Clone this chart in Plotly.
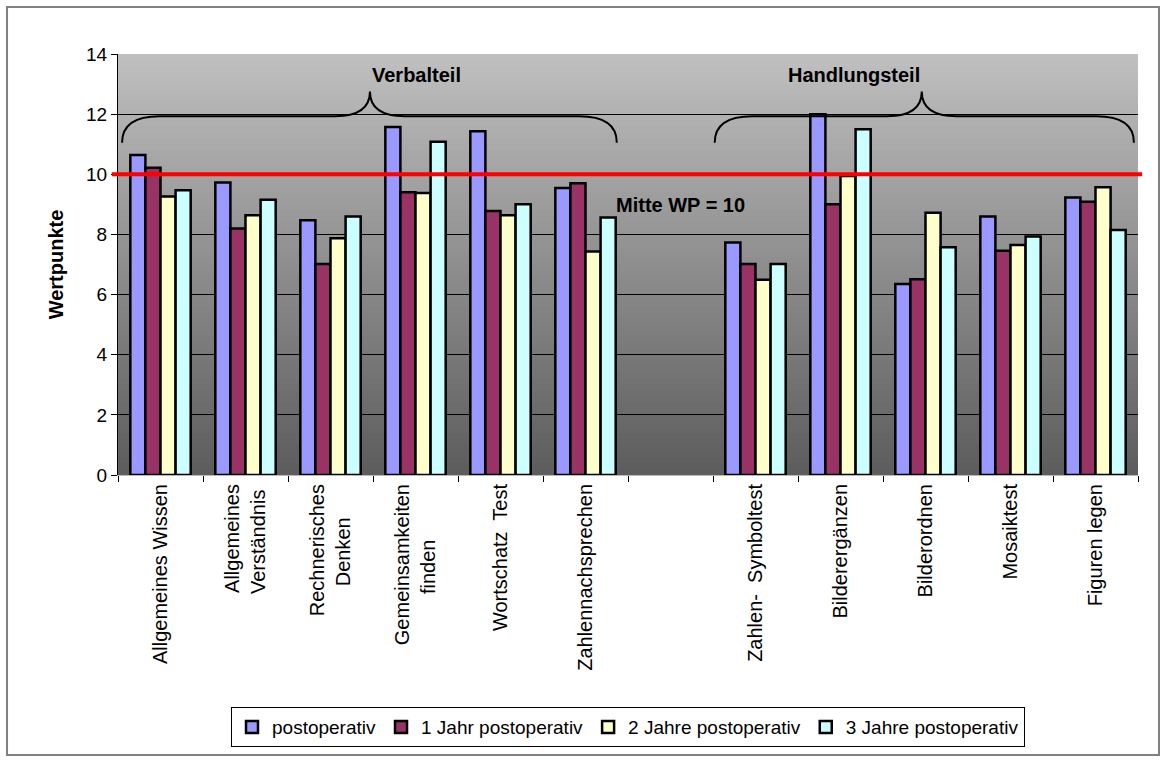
import plotly.graph_objects as go

NBSP = "\u00a0"

# Subtests of the intelligence test (one empty slot separates the two parts)
categories = [
    "Allgemeines Wissen",
    "Allgemeines<br>Verständnis" + NBSP,
    "Rechnerisches<br>Denken" + NBSP * 6,
    "Gemeinsamkeiten<br>finden" + NBSP * 10,
    "Wortschatz  Test",
    "Zahlennachsprechen",
    " ",
    "Zahlen-  Symboltest",
    "Bilderergänzen",
    "Bilderordnen",
    "Mosaiktest",
    "Figuren legen",
]

series_names = [
    "postoperativ",
    "1 Jahr postoperativ",
    "2 Jahre postoperativ",
    "3 Jahre postoperativ",
]

postoperativ = [10.64, 9.73, 8.47, 11.57, 11.43, 9.54, None, 7.73, 12.0, 6.35, 8.6, 9.23]
jahr_1 = [10.22, 8.2, 7.02, 9.4, 8.78, 9.7, None, 7.02, 9.0, 6.51, 7.46, 9.09]
jahre_2 = [9.26, 8.64, 7.87, 9.38, 8.64, 7.43, None, 6.49, 9.94, 8.72, 7.65, 9.57]
jahre_3 = [9.47, 9.15, 8.6, 11.08, 9.0, 8.56, None, 7.02, 11.5, 7.57, 7.93, 8.15]

y_ticks = [0, 2, 4, 6, 8, 10, 12, 14]
mitte_wp = 10

colors = ["#9999FF", "#993366", "#FFFFCC", "#CCFFFF"]
FONT = "Arial, Liberation Sans, sans-serif"

fig = go.Figure()
for name, vals, col in zip(series_names, [postoperativ, jahr_1, jahre_2, jahre_3], colors):
    fig.add_trace(go.Bar(
        x=categories, y=vals, name=name,
        marker=dict(color=col, line=dict(color="black", width=2.5)),
    ))

shapes = []

# vertical grey gradient behind the plot area (strips overlap to avoid seams)
n_strips = 70
top_rgb = (192, 192, 192)
bot_rgb = (92, 92, 92)
y_max = y_ticks[-1]
for i in range(n_strips):
    t = (i + 0.5) / n_strips
    c = tuple(round(bot_rgb[k] + (top_rgb[k] - bot_rgb[k]) * t) for k in range(3))
    shapes.append(dict(
        type="rect", xref="paper", yref="y", layer="below",
        x0=0, x1=1, y0=y_max * i / n_strips,
        y1=min(y_max, y_max * (i + 1.6) / n_strips),
        fillcolor="rgb(%d,%d,%d)" % c, line=dict(width=0),
    ))

# reference line at the scale midpoint
shapes.append(dict(
    type="line", xref="paper", yref="y", layer="above",
    x0=-0.006, x1=1.004, y0=mitte_wp, y1=mitte_wp,
    line=dict(color="#FF0000", width=4),
))


def brace(xl, xr, xc, y_end, y_flat, y_tip, r=0.037, r2=0.034):
    return (
        f"M {xl},{y_end} Q {xl},{y_flat} {xl + r},{y_flat} "
        f"L {xc - r2},{y_flat} Q {xc},{y_flat} {xc},{y_tip} "
        f"Q {xc},{y_flat} {xc + r2},{y_flat} "
        f"L {xr - r},{y_flat} Q {xr},{y_flat} {xr},{y_end}"
    )


for xl, xr, xc in [(0.004, 0.489, 0.247), (0.585, 0.996, 0.788)]:
    shapes.append(dict(
        type="path", xref="paper", yref="y", layer="above",
        path=brace(xl, xr, xc, 11.05, 11.93, 12.75),
        line=dict(color="black", width=2),
    ))

# outer frame of the chart
shapes.append(dict(
    type="rect", xref="paper", yref="paper", layer="above",
    x0=-0.1088, x1=1.0206, y0=-0.665, y1=1.1116,
    line=dict(color="#808080", width=2), fillcolor="rgba(0,0,0,0)",
))

annotations = [
    dict(text="<b>Verbalteil</b>", xref="paper", yref="y", x=0.247, y=13.3,
         showarrow=False, font=dict(size=20, color="black", family=FONT)),
    dict(text="<b>Handlungsteil</b>", xref="paper", yref="y", x=0.788, y=13.3,
         showarrow=False, font=dict(size=20, color="black", family=FONT)),
    dict(text="<b>Mitte WP = 10</b>", xref="paper", yref="y", x=0.551, y=8.98,
         showarrow=False, font=dict(size=20, color="black", family=FONT)),
]

fig.update_layout(
    width=1166, height=762,
    margin=dict(l=118, r=28, t=54, b=287),
    paper_bgcolor="white",
    plot_bgcolor="rgba(0,0,0,0)",
    font=dict(family=FONT, color="black"),
    barmode="group",
    bargap=0.29,
    bargroupgap=0,
    shapes=shapes,
    annotations=annotations,
    showlegend=True,
    legend=dict(
        orientation="h", x=0.5, xanchor="center", y=-0.599, yanchor="middle",
        bgcolor="white", bordercolor="black", borderwidth=1,
        font=dict(size=19, family=FONT, color="black"),
        itemwidth=30, traceorder="normal",
    ),
    xaxis=dict(
        type="category", categoryorder="array", categoryarray=categories,
        tickangle=-90, tickfont=dict(size=20, family=FONT),
        ticks="outside", ticklen=6, tickcolor="black", tickson="boundaries",
        showline=True, linecolor="#B8B8B8", linewidth=1,
        showgrid=False, automargin=False,
    ),
    yaxis=dict(
        range=[0, y_max], tickvals=y_ticks, tickfont=dict(size=19, family=FONT),
        ticks="outside", ticklen=6, tickcolor="black",
        showline=True, linecolor="black", linewidth=1,
        showgrid=True, gridcolor="black", gridwidth=1,
        zeroline=False, automargin=False,
        title=dict(text="<b>Wertpunkte</b>", font=dict(size=20, family=FONT), standoff=17),
    ),
)

fig.write_html("out.html")
